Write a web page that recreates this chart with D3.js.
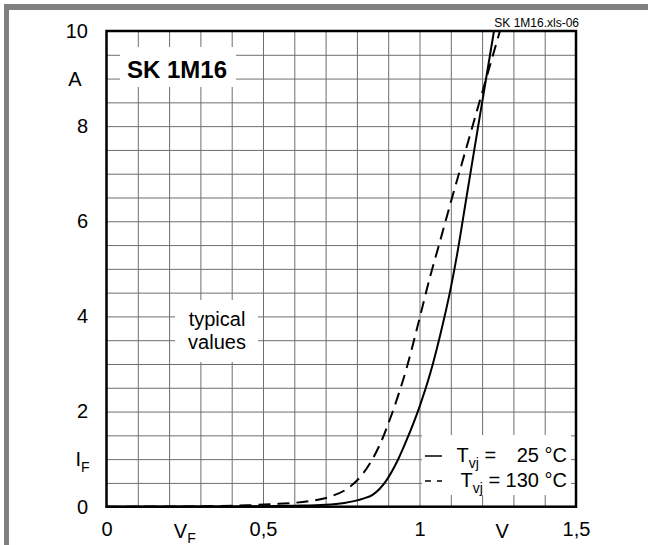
<!DOCTYPE html>
<html>
<head>
<meta charset="utf-8">
<script src="https://cdn.jsdelivr.net/npm/d3@7"></script>
<style>
  body { margin: 0; background: #fff; }
  text { font-family: "Liberation Sans", Arial, sans-serif; fill: #000; }
</style>
</head>
<body>
<script>
// forward characteristic
var vf25 = [0, 0.3, 0.5, 0.6, 0.7, 0.76, 0.82, 0.85, 0.895, 0.93, 0.96, 1.0, 1.035, 1.065, 1.1, 1.12, 1.15, 1.19, 1.238];
var if25 = [0, 0.005, 0.01, 0.02, 0.04, 0.08, 0.17, 0.25, 0.56, 0.97, 1.42, 2.1, 2.82, 3.58, 4.6, 5.3, 6.5, 8.1, 10];

var vf130 = [0, 0.3, 0.45, 0.55, 0.65, 0.714, 0.778, 0.82, 0.875, 0.916, 0.96, 0.996, 1.034, 1.06, 1.1, 1.15, 1.2, 1.257];
var if130 = [0, 0.01, 0.03, 0.06, 0.12, 0.21, 0.42, 0.70, 1.33, 2.03, 2.94, 3.85, 4.84, 5.45, 6.4, 7.55, 8.7, 10];

var xTicks = [0, 0.5, 1, 1.5];
var xTickLabels = ["0", "0,5", "1", "1,5"];
var yTicks = [0, 2, 4, 6, 8, 10];

var svgWidth = 648;
var svgHeight = 545;

var margin = { top: 31, right: 72, bottom: 38.3, left: 106.5 };
var width = svgWidth - margin.left - margin.right;
var height = svgHeight - margin.top - margin.bottom;

var svg = d3.select("body")
  .append("svg")
  .attr("width", svgWidth)
  .attr("height", svgHeight);

// grey frame on top and left
svg.append("rect").attr("x", 4).attr("y", 4).attr("width", 644).attr("height", 6).attr("fill", "#808080");
svg.append("rect").attr("x", 4).attr("y", 4).attr("width", 5).attr("height", 541).attr("fill", "#808080");

var chartGroup = svg.append("g")
  .attr("transform", `translate(${margin.left}, ${margin.top})`);

var xScale = d3.scaleLinear().domain([0, 1.5]).range([0, width]);
var yScale = d3.scaleLinear().domain([0, 10]).range([height, 0]);

// grid
chartGroup.append("g")
  .attr("transform", `translate(0, ${height})`)
  .call(d3.axisBottom(xScale).tickValues(d3.range(1, 15).map(d => d / 10)).tickSize(-height).tickFormat(""))
  .call(g => g.select(".domain").remove())
  .selectAll("line").attr("stroke", "#6e6e6e").attr("stroke-width", 1);

chartGroup.append("g")
  .call(d3.axisLeft(yScale).tickValues(d3.range(1, 20).map(d => d / 2)).tickSize(-width).tickFormat(""))
  .call(g => g.select(".domain").remove())
  .selectAll("line").attr("stroke", "#6e6e6e").attr("stroke-width", 1);

// white label boxes sit on the grid
function whiteBox(x0, y0, x1, y1) {
  svg.append("rect")
    .attr("x", x0).attr("y", y0)
    .attr("width", x1 - x0).attr("height", y1 - y0)
    .attr("fill", "#fff");
}
whiteBox(120, 47, 236, 87);
whiteBox(175, 300, 258, 362);
whiteBox(422, 435, 571, 495);

// curves
var line = d3.line()
  .x(d => xScale(d[0]))
  .y(d => yScale(d[1]))
  .curve(d3.curveMonotoneX);

chartGroup.append("path")
  .datum(vf25.map((v, i) => [v, if25[i]]))
  .attr("d", line)
  .attr("fill", "none")
  .attr("stroke", "#000")
  .attr("stroke-width", 2);

chartGroup.append("path")
  .datum(vf130.map((v, i) => [v, if130[i]]))
  .attr("d", line)
  .attr("fill", "none")
  .attr("stroke", "#000")
  .attr("stroke-width", 2)
  .attr("stroke-dasharray", "12,7");

// frame
chartGroup.append("rect")
  .attr("width", width)
  .attr("height", height)
  .attr("fill", "none")
  .attr("stroke", "#000")
  .attr("stroke-width", 2.5);

// tick labels
var yAxis = chartGroup.append("g")
  .call(d3.axisLeft(yScale).tickValues(yTicks).tickSize(0).tickPadding(18.5).tickFormat(d => d));
yAxis.select(".domain").remove();
yAxis.selectAll("text")
  .style("font-family", "'Liberation Sans', Arial, sans-serif")
  .style("font-size", "20px")
  .attr("fill", "#000");

var xAxis = chartGroup.append("g")
  .attr("transform", `translate(0, ${height})`)
  .call(d3.axisBottom(xScale).tickValues(xTicks).tickSize(0).tickPadding(15).tickFormat((d, i) => xTickLabels[i]));
xAxis.select(".domain").remove();
xAxis.selectAll("text")
  .style("font-family", "'Liberation Sans', Arial, sans-serif")
  .style("font-size", "20px")
  .attr("fill", "#000");

// unit and quantity labels
chartGroup.append("text")
  .attr("x", -31.5).attr("y", yScale(9))
  .attr("dy", "0.36em")
  .attr("text-anchor", "middle")
  .style("font-size", "20px")
  .text("A");

var ifLabel = chartGroup.append("text")
  .attr("x", -31).attr("y", yScale(1))
  .attr("dy", "0.36em")
  .style("font-size", "20px");
ifLabel.append("tspan").text("I");
ifLabel.append("tspan").attr("dy", 6).style("font-size", "14px").text("F");

var vfLabel = chartGroup.append("text")
  .attr("x", xScale(0.25)).attr("y", height + 31.5)
  .attr("text-anchor", "middle")
  .style("font-size", "20px");
vfLabel.append("tspan").text("V");
vfLabel.append("tspan").attr("dy", 5).style("font-size", "14px").text("F");

chartGroup.append("text")
  .attr("x", xScale(1.264)).attr("y", height + 31.5)
  .attr("text-anchor", "middle")
  .style("font-size", "20px")
  .text("V");

// title and notes
svg.append("text")
  .attr("x", 127).attr("y", 77.5)
  .style("font-size", "24px")
  .style("font-weight", "bold")
  .text("SK 1M16");

svg.append("text")
  .attr("x", 579).attr("y", 26.5)
  .attr("text-anchor", "end")
  .style("font-size", "12px")
  .text("SK 1M16.xls-06");

svg.append("text")
  .attr("x", 217).attr("y", 325.5)
  .attr("text-anchor", "middle")
  .style("font-size", "20px")
  .text("typical");
svg.append("text")
  .attr("x", 217).attr("y", 348.5)
  .attr("text-anchor", "middle")
  .style("font-size", "20px")
  .text("values");

// legend
var legendRows = [
  { value: "\u2007\u200925 °C", dash: null, y: 462 },
  { value: "130 °C", dash: "6,6", y: 487 }
];
legendRows.forEach(function(r) {
  svg.append("line")
    .attr("x1", 425).attr("x2", 442)
    .attr("y1", r.y - 6).attr("y2", r.y - 6)
    .attr("stroke", "#000")
    .attr("stroke-width", 1.5)
    .attr("stroke-dasharray", r.dash);
  var t = svg.append("text")
    .attr("x", 567).attr("y", r.y)
    .attr("text-anchor", "end")
    .style("font-size", "20px");
  t.append("tspan").text("T");
  t.append("tspan").attr("dy", 6).style("font-size", "14px").text("vj");
  t.append("tspan").attr("dy", -6).text(" = " + r.value);
});
</script>
</body>
</html>
